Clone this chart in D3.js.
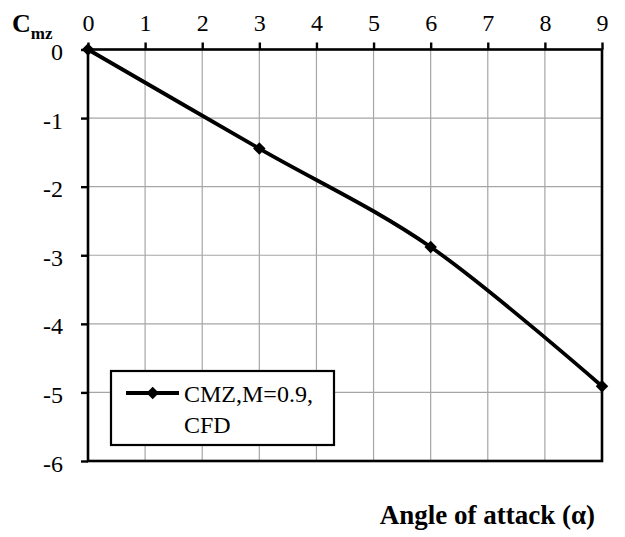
<!DOCTYPE html>
<html>
<head>
<meta charset="utf-8">
<script src="https://cdn.jsdelivr.net/npm/d3@7"></script>
<style>
  html, body { margin: 0; padding: 0; background: #fff; }
  svg { display: block; }
  svg text { font-family: "Liberation Serif", "Times New Roman", serif !important; fill: #000; }
</style>
</head>
<body>
<script>
// Pitching-moment coefficient vs angle of attack
const alpha = [0, 3, 6, 9];
const cmz = [0, -1.445, -2.88, -4.91];
const xTicks = [0, 1, 2, 3, 4, 5, 6, 7, 8, 9];
const yTicks = [0, -1, -2, -3, -4, -5, -6];
const seriesName = ["CMZ,M=0.9,", "CFD"];

const W = 625, H = 537;
const plotL = 88, plotR = 602, plotT = 49.5, plotB = 461;
const serif = '"Liberation Serif", "Times New Roman", serif';

const svg = d3.select("body").append("svg")
  .attr("width", W).attr("height", H);

const x = d3.scaleLinear().domain([0, 9]).range([plotL, plotR]);
const y = d3.scaleLinear().domain([-6, 0]).range([plotB, plotT]);

// grid
const grid = svg.append("g").attr("stroke", "#a6a6a6").attr("stroke-width", 1.2);
grid.selectAll("line.v").data(xTicks).join("line")
  .attr("class", "v")
  .attr("x1", d => x(d)).attr("x2", d => x(d))
  .attr("y1", plotT).attr("y2", plotB);
grid.selectAll("line.h").data(yTicks).join("line")
  .attr("class", "h")
  .attr("y1", d => y(d)).attr("y2", d => y(d))
  .attr("x1", plotL).attr("x2", plotR);

// frame
svg.append("rect")
  .attr("x", plotL).attr("y", plotT)
  .attr("width", plotR - plotL).attr("height", plotB - plotT)
  .attr("fill", "none").attr("stroke", "#000").attr("stroke-width", 2.6);

// axes
const fs = 24;
const xAxis = svg.append("g").attr("transform", `translate(0,${plotT})`)
  .call(d3.axisTop(x).tickValues(xTicks).tickSize(7).tickPadding(12).tickFormat(d3.format("d")));
const yAxis = svg.append("g").attr("transform", `translate(${plotL},0)`)
  .call(d3.axisLeft(y).tickValues(yTicks).tickSize(7).tickPadding(18).tickFormat(d => String(d)));
[xAxis, yAxis].forEach(a => {
  a.attr("font-family", null);
  a.select(".domain").remove();
  a.selectAll(".tick line").attr("stroke", "#000").attr("stroke-width", 2.4);
  a.selectAll(".tick text")
    .style("font-family", serif).style("font-size", fs + "px").attr("fill", "#000");
});
yAxis.selectAll(".tick text").attr("dy", "0.42em");

// data line (smoothed)
const line = d3.line()
  .x((d, i) => x(alpha[i])).y(d => y(d))
  .curve(d3.curveCardinal.tension(0));
svg.append("path").datum(cmz)
  .attr("d", line)
  .attr("fill", "none").attr("stroke", "#000").attr("stroke-width", 3.8)
  .attr("stroke-linejoin", "round");

const marker = d3.symbol().type(d3.symbolSquare).size(78);
svg.selectAll("path.pt").data(cmz).join("path")
  .attr("class", "pt")
  .attr("d", marker)
  .attr("transform", (d, i) => `translate(${x(alpha[i])},${y(d)}) rotate(45)`)
  .attr("fill", "#000");

// legend
const lg = svg.append("g");
lg.append("rect").attr("x", 111).attr("y", 371).attr("width", 223).attr("height", 74)
  .attr("fill", "#fff").attr("stroke", "#000").attr("stroke-width", 2.2);
lg.append("line").attr("x1", 126).attr("x2", 179).attr("y1", 393).attr("y2", 393)
  .attr("stroke", "#000").attr("stroke-width", 3.8);
lg.append("path").attr("d", marker).attr("transform", "translate(152.7,393) rotate(45)").attr("fill", "#000");
lg.selectAll("text").data(seriesName).join("text")
  .attr("x", 184).attr("y", (d, i) => 402 + i * 31)
  .style("font-size", "24px").text(d => d);

// axis titles
const cl = svg.append("text").attr("x", 12).attr("y", 32).style("font-weight", "bold");
cl.append("tspan").style("font-size", "26px").text("C");
cl.append("tspan").style("font-size", "17px").attr("dy", 7).text("mz");

svg.append("text").attr("x", 595).attr("y", 524)
  .attr("text-anchor", "end").style("font-weight", "bold").style("font-size", "27px")
  .text("Angle of attack (α)");
</script>
</body>
</html>
